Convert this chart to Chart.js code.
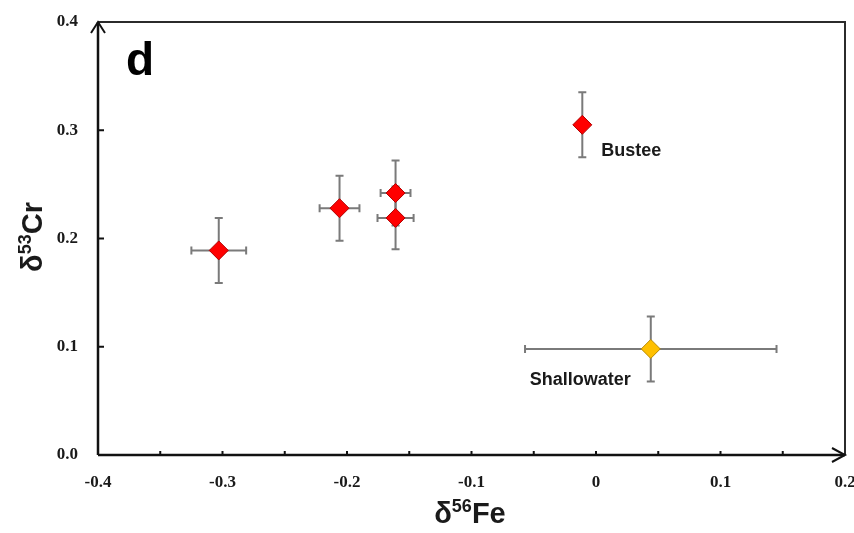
<!DOCTYPE html>
<html>
<head>
<meta charset="utf-8">
<script src="https://cdn.jsdelivr.net/npm/chart.js@4"></script>
<style>
  html, body { margin: 0; padding: 0; background: #fff; }
</style>
</head>
<body>
<canvas id="chart" width="854" height="533"></canvas>
<script>
// Red samples (d56Fe, d53Cr, 2sd errors)
const feValues = [-0.303, -0.206, -0.161, -0.161, -0.011];
const crValues = [0.189, 0.228, 0.242, 0.219, 0.305];
const feErrors = [0.022, 0.016, 0.012, 0.0145, 0];
const crErrors = [0.03, 0.03, 0.03, 0.029, 0.03];
const redLabels = ['', '', '', '', 'Bustee'];

// Shallowater
const shallowFe = [0.044];
const shallowCr = [0.098];
const shallowFeErr = [0.101];
const shallowCrErr = [0.03];
const shallowLabels = ['Shallowater'];

// Axis ticks
const xTickValues = [-0.4, -0.3, -0.2, -0.1, 0, 0.1, 0.2];
const xTickLabels = ['-0.4', '-0.3', '-0.2', '-0.1', '0', '0.1', '0.2'];
const yTickValues = [0, 0.1, 0.2, 0.3, 0.4];
const yTickLabels = ['0.0', '0.1', '0.2', '0.3', '0.4'];

function makePoints(xs, ys, xe, ye, labels) {
  return xs.map((x, i) => ({ x: x, y: ys[i], xErr: xe[i], yErr: ye[i], label: labels[i] }));
}

function tickText(values, labels, v) {
  for (let i = 0; i < values.length; i++) {
    if (Math.abs(values[i] - v) < 1e-6) return labels[i];
  }
  return '';
}

// error bars under the points
const errorBars = {
  id: 'errorBars',
  beforeDatasetsDraw(chart) {
    const ctx = chart.ctx;
    const xs = chart.scales.x, ys = chart.scales.y;
    ctx.save();
    ctx.strokeStyle = '#7a7a7a';
    ctx.lineWidth = 2;
    const cap = 4;
    chart.data.datasets.forEach(ds => {
      ds.data.forEach(p => {
        const px = xs.getPixelForValue(p.x), py = ys.getPixelForValue(p.y);
        if (p.yErr) {
          const y1 = ys.getPixelForValue(p.y + p.yErr), y2 = ys.getPixelForValue(p.y - p.yErr);
          ctx.beginPath();
          ctx.moveTo(px, y1); ctx.lineTo(px, y2);
          ctx.moveTo(px - cap, y1); ctx.lineTo(px + cap, y1);
          ctx.moveTo(px - cap, y2); ctx.lineTo(px + cap, y2);
          ctx.stroke();
        }
        if (p.xErr) {
          const x1 = xs.getPixelForValue(p.x - p.xErr), x2 = xs.getPixelForValue(p.x + p.xErr);
          ctx.beginPath();
          ctx.moveTo(x1, py); ctx.lineTo(x2, py);
          ctx.moveTo(x1, py - cap); ctx.lineTo(x1, py + cap);
          ctx.moveTo(x2, py - cap); ctx.lineTo(x2, py + cap);
          ctx.stroke();
        }
      });
    });
    ctx.restore();
  },
  afterDatasetsDraw(chart) {
    const ctx = chart.ctx;
    ctx.save();
    ctx.fillStyle = '#1a1a1a';
    ctx.font = 'bold 18px "Liberation Sans", Arial, sans-serif';
    ctx.textBaseline = 'alphabetic';
    ctx.textAlign = 'left';
    // Bustee sits right-below its point, Shallowater left-below
    chart.data.datasets.forEach((ds, di) => {
      const meta = chart.getDatasetMeta(di);
      ds.data.forEach((p, i) => {
        if (!p.label) return;
        const el = meta.data[i];
        if (di === 0) ctx.fillText(p.label, el.x + 19, el.y + 31);
        else ctx.fillText(p.label, el.x - 121, el.y + 36);
      });
    });
    ctx.restore();
  }
};

// frame, axis arrows, inward ticks, titles, panel letter
const frame = {
  id: 'frame',
  afterDraw(chart) {
    const ctx = chart.ctx;
    const a = chart.chartArea;
    const xs = chart.scales.x, ys = chart.scales.y;
    ctx.save();
    // top and right border
    ctx.strokeStyle = '#2b2b2b';
    ctx.lineWidth = 2;
    ctx.beginPath();
    ctx.moveTo(a.left, a.top); ctx.lineTo(a.right, a.top); ctx.lineTo(a.right, a.bottom);
    ctx.stroke();
    // axes
    ctx.strokeStyle = '#111';
    ctx.lineWidth = 2.5;
    ctx.beginPath();
    ctx.moveTo(a.left, a.bottom); ctx.lineTo(a.left, a.top);
    ctx.moveTo(a.left, a.bottom); ctx.lineTo(a.right, a.bottom);
    ctx.stroke();
    // arrow heads
    ctx.lineWidth = 2;
    ctx.beginPath();
    ctx.moveTo(a.left - 7, a.top + 11); ctx.lineTo(a.left, a.top); ctx.lineTo(a.left + 7, a.top + 11);
    ctx.moveTo(a.right - 13, a.bottom - 7); ctx.lineTo(a.right, a.bottom); ctx.lineTo(a.right - 13, a.bottom + 7);
    ctx.stroke();
    // inward tick marks
    ctx.beginPath();
    xs.ticks.forEach(t => {
      const px = xs.getPixelForValue(t.value);
      if (px <= a.left + 1 || px >= a.right - 1) return;
      ctx.moveTo(px, a.bottom); ctx.lineTo(px, a.bottom - 4);
    });
    ys.ticks.forEach(t => {
      const py = ys.getPixelForValue(t.value);
      if (py >= a.bottom - 1 || py <= a.top + 1) return;
      ctx.moveTo(a.left, py); ctx.lineTo(a.left + 6, py);
    });
    ctx.stroke();

    // axis titles with superscripts
    ctx.fillStyle = '#1a1a1a';
    ctx.textBaseline = 'alphabetic';
    ctx.textAlign = 'left';
    const big = 'bold 29px "Liberation Sans", Arial, sans-serif';
    const sup = 'bold 18px "Liberation Sans", Arial, sans-serif';
    function partsWidth(parts) {
      let w = 0;
      parts.forEach(p => { ctx.font = p[1]; w += ctx.measureText(p[0]).width; });
      return w;
    }
    function drawParts(parts, x0, y0) {
      let x = x0;
      parts.forEach(p => {
        ctx.font = p[1];
        ctx.fillText(p[0], x, y0 + p[2]);
        x += ctx.measureText(p[0]).width;
      });
    }
    const xTitle = [['δ', big, 0], ['56', sup, -11], ['Fe', big, 0]];
    drawParts(xTitle, 470 - partsWidth(xTitle) / 2, 523);

    const yTitle = [['δ', big, 0], ['53', sup, -11], ['Cr', big, 0]];
    const wy = partsWidth(yTitle);
    ctx.translate(42, 237);
    ctx.rotate(-Math.PI / 2);
    drawParts(yTitle, -wy / 2, 0);
    ctx.setTransform(1, 0, 0, 1, 0, 0);

    // panel letter
    ctx.font = 'bold 46px "Liberation Sans", Arial, sans-serif';
    ctx.fillStyle = '#000';
    ctx.fillText('d', 126, 75);
    ctx.restore();
  }
};

const tickFont = { family: '"Liberation Serif", "Times New Roman", serif', size: 17, weight: 'bold' };

new Chart(document.getElementById('chart'), {
  type: 'scatter',
  data: {
    datasets: [
      {
        label: 'samples',
        data: makePoints(feValues, crValues, feErrors, crErrors, redLabels),
        pointStyle: 'rectRot',
        pointRadius: 9.5,
        backgroundColor: '#ff0000',
        borderColor: '#b00000',
        borderWidth: 1
      },
      {
        label: 'Shallowater',
        data: makePoints(shallowFe, shallowCr, shallowFeErr, shallowCrErr, shallowLabels),
        pointStyle: 'rectRot',
        pointRadius: 9.5,
        backgroundColor: '#ffc000',
        borderColor: '#b88a00',
        borderWidth: 1
      }
    ]
  },
  options: {
    responsive: false,
    animation: false,
    layout: { padding: { top: 22, right: 9, left: 0, bottom: 0 }, autoPadding: false },
    plugins: { legend: { display: false }, tooltip: { enabled: false } },
    scales: {
      x: {
        type: 'linear',
        min: -0.4,
        max: 0.2,
        grid: { display: false, drawTicks: false },
        border: { display: false },
        afterFit: s => { s.height = 78; s.paddingLeft = 0; s.paddingRight = 0; },
        ticks: {
          stepSize: 0.05,
          autoSkip: false,
          maxRotation: 0,
          padding: 17,
          color: '#1a1a1a',
          font: tickFont,
          callback: v => tickText(xTickValues, xTickLabels, v)
        }
      },
      y: {
        type: 'linear',
        min: 0,
        max: 0.4,
        grid: { display: false, drawTicks: false },
        border: { display: false },
        afterFit: s => { s.width = 98; s.paddingTop = 0; s.paddingBottom = 0; },
        ticks: {
          stepSize: 0.1,
          padding: 20,
          color: '#1a1a1a',
          font: tickFont,
          callback: v => tickText(yTickValues, yTickLabels, v)
        }
      }
    }
  },
  plugins: [errorBars, frame]
});
</script>
</body>
</html>
